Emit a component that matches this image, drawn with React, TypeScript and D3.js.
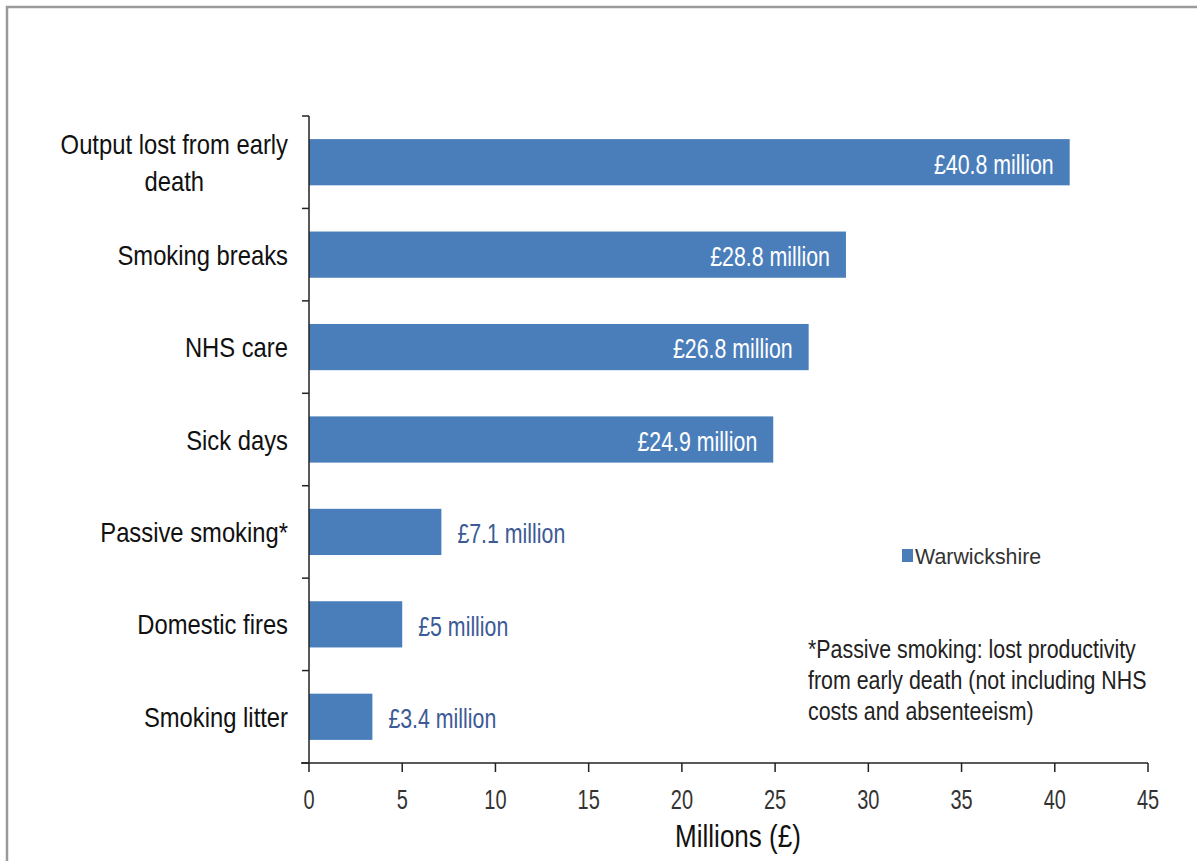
import React, { useEffect, useRef } from "react";
import * as d3 from "d3";

const categories = [
  "Output lost from early death",
  "Smoking breaks",
  "NHS care",
  "Sick days",
  "Passive smoking*",
  "Domestic fires",
  "Smoking litter",
];
const values = [40.8, 28.8, 26.8, 24.9, 7.1, 5, 3.4];
const valueLabels = ["£40.8 million", "£28.8 million", "£26.8 million", "£24.9 million", "£7.1 million", "£5 million", "£3.4 million"];
const insideLabel = [true, true, true, true, false, false, false];
const xTicks = [0, 5, 10, 15, 20, 25, 30, 35, 40, 45];
const seriesName = "Warwickshire";
const axisTitle = "Millions (£)";
const footnote = [
  "*Passive smoking: lost productivity",
  "from early death (not including NHS",
  "costs and absenteeism)",
];

const W = 1197;
const H = 861;
const FONT = "'Liberation Sans', Arial, sans-serif";

type Sel = d3.Selection<any, unknown, null, undefined>;

function sText(
  parent: Sel,
  x: number,
  y: number,
  txt: string,
  size: number,
  sx: number,
  anchor: string,
  fill: string,
  dy = "0"
) {
  return parent
    .append("text")
    .attr("transform", `translate(${x},${y}) scale(${sx},1)`)
    .attr("x", 0)
    .attr("y", 0)
    .attr("dy", dy)
    .attr("text-anchor", anchor)
    .attr("fill", fill)
    .attr("font-family", FONT)
    .attr("font-size", size)
    .text(txt);
}

export default function App() {
  const ref = useRef<SVGSVGElement>(null);

  useEffect(() => {
    const svg = d3.select(ref.current) as unknown as Sel;
    svg.selectAll("*").remove();

    const x = d3.scaleLinear().domain([0, 45]).range([309, 1148]);
    const y = d3.scaleBand().domain(categories).range([116, 763]).paddingInner(0.5).paddingOuter(0.25);

    // frame
    svg.append("rect").attr("x", 0).attr("y", 0).attr("width", W).attr("height", H).attr("fill", "#fff");
    svg.append("path")
      .attr("d", `M7,${H} V7 H${W}`)
      .attr("fill", "none").attr("stroke", "#9a9a9a").attr("stroke-width", 2.5);

    // bars
    svg.append("g").selectAll("rect").data(values).join("rect")
      .attr("x", x(0))
      .attr("y", (_, i) => y(categories[i])!)
      .attr("width", (d) => x(d) - x(0))
      .attr("height", y.bandwidth())
      .attr("fill", "#4a7ebb");

    // value labels
    const vl = svg.append("g");
    values.forEach((d, i) => {
      const cy = y(categories[i])! + y.bandwidth() / 2;
      sText(
        vl,
        insideLabel[i] ? x(d) - 16 : x(d) + 16,
        cy,
        valueLabels[i],
        27,
        0.79,
        insideLabel[i] ? "end" : "start",
        insideLabel[i] ? "#ffffff" : "#3c5a96",
        "0.42em"
      );
    });

    // y axis
    const yAxis = svg.append("g");
    yAxis.append("line").attr("x1", 309).attr("x2", 309).attr("y1", 116).attr("y2", 763)
      .attr("stroke", "#222").attr("stroke-width", 1.5);
    const tickYs = d3.range(categories.length + 1).map((i) => 116 + i * ((763 - 116) / categories.length));
    yAxis.selectAll("line.t").data(tickYs).join("line").attr("class", "t")
      .attr("x1", 302).attr("x2", 309).attr("y1", (d) => d).attr("y2", (d) => d)
      .attr("stroke", "#222").attr("stroke-width", 1.5);

    // category labels
    const CS = 0.85;
    categories.forEach((c) => {
      const cy = y(c)! + y.bandwidth() / 2;
      const lines = c === "Output lost from early death" ? ["Output lost from early", "death"] : [c];
      const g = svg.append("g");
      const lh = 37;
      const t0 = cy - ((lines.length - 1) * lh) / 2;
      const texts = lines.map((ln, k) => sText(g, 288, t0 + k * lh, ln, 28, CS, "end", "#111", "0.36em"));
      if (lines.length > 1) {
        const widths = texts.map((t) => (t.node() as SVGTextElement).getComputedTextLength() * CS);
        const maxW = Math.max(...widths);
        texts.forEach((t, k) =>
          t.attr("text-anchor", "middle").attr("transform", `translate(${288 - maxW / 2},${t0 + k * lh}) scale(${CS},1)`)
        );
      }
    });

    // x axis
    const xa = svg.append("g");
    xa.append("line").attr("x1", 301).attr("x2", 1148).attr("y1", 763).attr("y2", 763)
      .attr("stroke", "#222").attr("stroke-width", 1.5);
    xa.selectAll("line.t").data(xTicks).join("line").attr("class", "t")
      .attr("x1", (d) => x(d)).attr("x2", (d) => x(d)).attr("y1", 763).attr("y2", 772)
      .attr("stroke", "#222").attr("stroke-width", 1.5);
    xTicks.forEach((t) => sText(xa, x(t), 809, String(t), 27, 0.74, "middle", "#333"));

    sText(svg, 738, 847, axisTitle, 31, 0.84, "middle", "#111");

    // legend
    svg.append("rect").attr("x", 902).attr("y", 549).attr("width", 11).attr("height", 13).attr("fill", "#4a7ebb");
    sText(svg, 915, 564, seriesName, 23, 0.93, "start", "#333");

    // footnote
    const fg = svg.append("g");
    footnote.forEach((ln, i) => sText(fg, 808, 658 + i * 31, ln, 25, 0.855, "start", "#222"));
  }, []);

  return (
    <svg ref={ref} width={W} height={H} style={{ display: "block", position: "absolute", left: 0, top: 0 }} />
  );
}
